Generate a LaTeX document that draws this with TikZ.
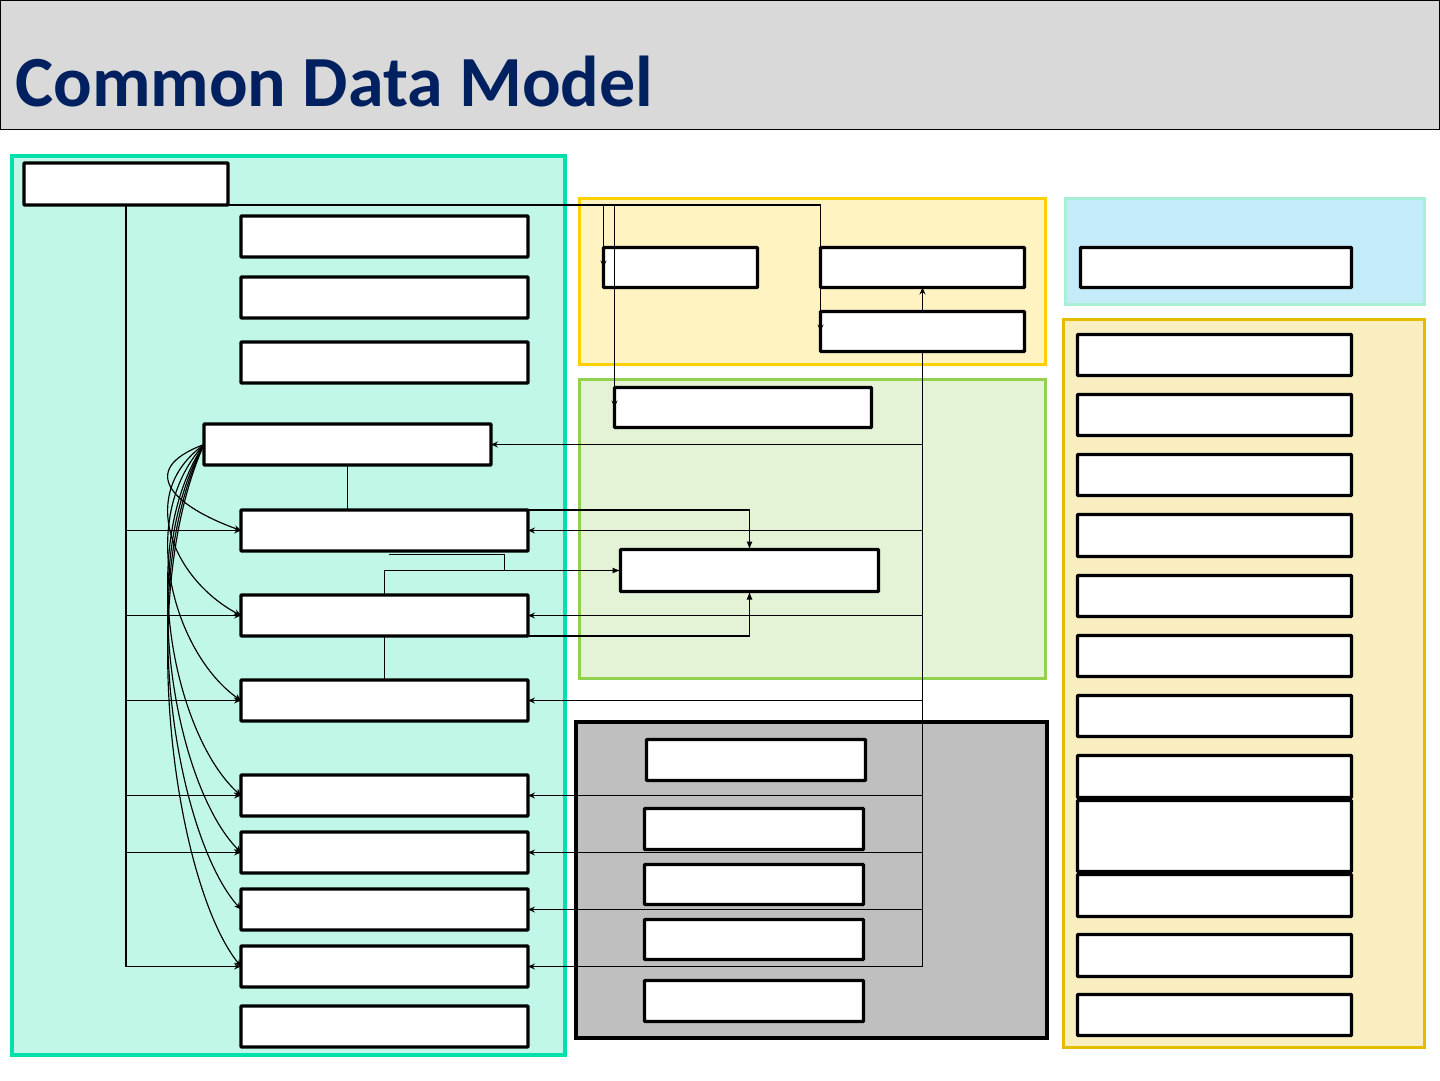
\documentclass[tikz,border=0pt]{standalone}
\usepackage{fontspec}
\newfontfamily\ttlfont{Carlito}
\usetikzlibrary{arrows.meta,calc}
\definecolor{titleblue}{HTML}{002060}
\definecolor{titlebg}{HTML}{D9D9D9}
\definecolor{tealfill}{HTML}{C0F7E8}
\definecolor{tealline}{HTML}{00E0AA}
\definecolor{yelfill}{HTML}{FFF3C2}
\definecolor{yelline}{HTML}{FFD000}
\definecolor{grnfill}{HTML}{E4F2D6}
\definecolor{grnline}{HTML}{92D050}
\definecolor{gryfill}{HTML}{BFBFBF}
\definecolor{blufill}{HTML}{C3EBF9}
\definecolor{bluline}{HTML}{A8F0D4}
\definecolor{orgfill}{HTML}{F8EEC0}
\definecolor{orgline}{HTML}{E6BC00}
\newcommand{\bnode}[5]{\node[box,minimum width=#4pt,minimum height=#5pt] (#1) at (#2,#3) {};}
\begin{document}
\begin{tikzpicture}[x=1pt,y=-1pt,
  box/.style={draw=black,fill=white,line width=3.4pt,inner sep=0pt,outer sep=0pt,anchor=north west,rounded corners=0.8pt},
  conn/.style={line width=1.15pt,black},
  barb/.style={conn,-{Stealth[length=7pt,width=6pt,inset=2.5pt]}},
  tri/.style={conn,-{Latex[length=8pt,width=6pt]}}]
\useasboundingbox (0,0) rectangle (1440,1080);
% title bar
\draw[fill=titlebg,draw=black,line width=1pt] (0.5,0.5) rectangle (1439.5,129.5);
\node[anchor=base west,inner sep=0pt,text=titleblue,font={\ttlfont\bfseries\fontsize{72}{80}\selectfont}] (title) at (15,106) {Common Data Model};
% groups
\draw[fill=tealfill,draw=tealline,line width=4pt] (12,155.5) rectangle (564.5,1054.5);
\draw[fill=yelfill,draw=yelline,line width=3.5pt] (579.5,198.5) rectangle (1045.5,364.5);
\draw[fill=grnfill,draw=grnline,line width=3.5pt] (579.5,379.5) rectangle (1045.5,678.5);
\draw[fill=gryfill,draw=black,line width=3.5pt] (576,722) rectangle (1047,1038);
\draw[fill=blufill,draw=bluline,line width=3.5pt] (1065.5,198.5) rectangle (1424.5,304.5);
\draw[fill=orgfill,draw=orgline,line width=3.5pt] (1063.5,319.5) rectangle (1424.5,1047.5);
% left column boxes
\bnode{A}{24}{163}{204}{42}
\bnode{B1}{241}{216}{287}{41}
\bnode{B2}{241}{277}{287}{41}
\bnode{B3}{241}{342}{287}{41}
\bnode{C}{204}{424}{287}{41}
\bnode{D1}{241}{510}{287}{41}
\bnode{D2}{241}{595}{287}{41}
\bnode{D3}{241}{680}{287}{41}
\bnode{E1}{241}{775}{287}{41}
\bnode{E2}{241}{832}{287}{41}
\bnode{E3}{241}{889}{287}{41}
\bnode{E4}{241}{946}{287}{41}
\bnode{E5}{241}{1006}{287}{41}
% yellow / green
\bnode{F1}{603.5}{247.5}{154}{40}
\bnode{F2}{820.5}{247.5}{204}{40}
\bnode{F3}{820.5}{311.5}{204}{40}
\bnode{G1}{614.5}{387.5}{257}{40}
\bnode{G2}{620.5}{549.5}{258}{42}
% gray
\bnode{K1}{646.5}{739.5}{219}{41}
\bnode{K2}{644.5}{808.5}{219}{41}
\bnode{K3}{644.5}{864.5}{219}{40}
\bnode{K4}{644.5}{919.5}{219}{40}
\bnode{K5}{644.5}{980.5}{219}{41}
% blue / orange
\bnode{H0}{1080.5}{247.5}{271}{40}
\bnode{R1}{1077.5}{334.5}{274}{41}
\bnode{R2}{1077.5}{394.5}{274}{41}
\bnode{R3}{1077.5}{454.5}{274}{41}
\bnode{R4}{1077.5}{514.5}{274}{42}
\bnode{R5}{1077.5}{575.5}{274}{41}
\bnode{R6}{1077.5}{635.5}{274}{41}
\bnode{R7}{1077.5}{695.5}{274}{41}
\bnode{R8}{1077.5}{755.5}{274}{42}
\bnode{R9}{1077.5}{800.5}{274}{71}
\bnode{R10}{1077.5}{874.5}{274}{42}
\bnode{R11}{1077.5}{934.5}{274}{42}
\bnode{R12}{1077.5}{994.5}{274}{41}
% connectors from A
\draw[barb] (A.south east) -| (F1.west);
\draw[barb] (A.south east) -| (G1.west);
\draw[barb] (A.south east) -| (F3.west);
\foreach \t in {D1,D2,D3,E1,E2,E4} {\draw[barb] (A.south) |- (\t.west);}
% connectors from F3
\draw[barb] (F3.north) -- (F2.south);
\foreach \t in {C,D1,D2,D3,E1,E2,E3,E4} {\draw[barb] (F3.south) |- (\t.east);}
% C to D1, D2 to D3
\draw[conn] (C.south) -- (C.south |- D1.north);
\draw[conn] (D2.south) -- (D3.north);
% into G2
\draw[tri] (D1.north east) -| (G2.north);
\draw[tri] (D2.south east) -| (G2.south);
\draw[tri] (D2.north) |- (G2.west);
\draw[conn] ($(D1.south)+(4,3.5)$) -| ($(G2.west)+(-116,0)$);
% curved connectors from C
\foreach \t/\d in {D1/87,D2/171,D3/256,E1/351,E2/408,E3/465,E4/522}
  {\draw[barb] (C.west) .. controls +(-70,{0.3*\d}) and +(-65,{-0.13*\d-12}) .. (\t.west);}
\end{tikzpicture}
\end{document}
